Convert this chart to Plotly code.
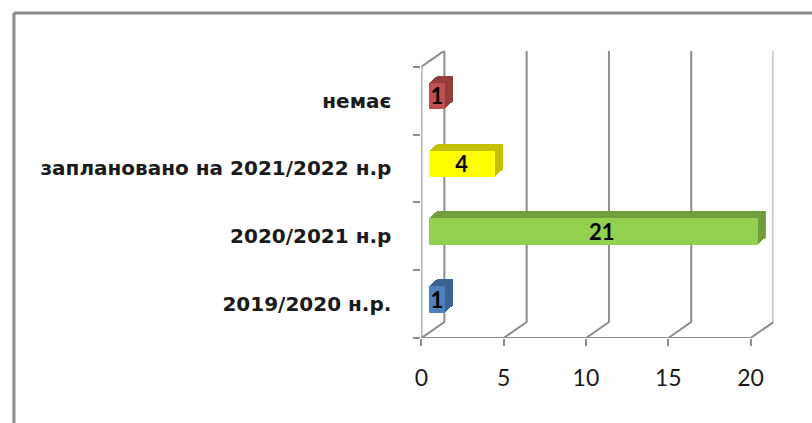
import plotly.graph_objects as go

# ---- data ----
categories = ["2019/2020 н.р.", "2020/2021 н.р", "заплановано на 2021/2022 н.р", "немає"]
values = [1, 21, 4, 1]
front_colors = ["#4f81bd", "#92d050", "#ffff00", "#c0504d"]
depth_colors = ["#3b6396", "#6f9e3a", "#c2c000", "#943c39"]
x_ticks = [0, 5, 10, 15, 20]

# ---- geometry (pixels) ----
W, H = 812, 423
AX_LEFT, AX_RIGHT = 418, 750          # front value axis 0..20
AX_TOP, AX_BOTTOM = 66.7, 338         # front category axis
X_MAX = 20
WALL_DX, WALL_DY = 23, 16             # back-wall offset
BAR_DX, BAR_DY = 7.5, 5               # bar front-face offset inside the box
DEPTH_DX, DEPTH_DY = 8, 7             # bar extrusion
STEPS = 8
GRID = "#8c8c8c"
FONT = "Lato, 'Open Sans', sans-serif"
CAT_FONT = "'DejaVu Sans', sans-serif"

px_per_unit = (AX_RIGHT - AX_LEFT) / X_MAX
cat_px = (AX_BOTTOM - AX_TOP) / len(categories)


def px(x):
    return x / W


def py(y):
    return 1 - y / H


fig = go.Figure()

# main subplot: holds the box, front axes and wall lines
main_right = AX_RIGHT + WALL_DX
main_top = AX_TOP - WALL_DY
fig.update_layout(
    xaxis=dict(
        domain=[px(AX_LEFT), px(main_right)],
        range=[0, (main_right - AX_LEFT) / px_per_unit],
        tickvals=x_ticks, ticktext=[str(t) for t in x_ticks],
        ticks="outside", ticklen=7, tickwidth=2, tickcolor=GRID,
        showline=False, showgrid=False, zeroline=False,
        tickfont=dict(family=FONT, size=23, color="#1a1a1a"),
        ticklabelstandoff=12, fixedrange=True,
    ),
    yaxis=dict(
        domain=[py(AX_BOTTOM), py(main_top)],
        type="category", categoryorder="array", categoryarray=categories,
        range=[-0.5, len(categories) - 0.5 + (AX_TOP - main_top) / cat_px],
        tickson="boundaries", ticks="outside", ticklen=7, tickwidth=2, tickcolor=GRID,
        showline=False, showgrid=False, zeroline=False,
        tickfont=dict(family=CAT_FONT, size=20, color="#1a1a1a", weight="bold"),
        ticklabelstandoff=29, fixedrange=True,
    ),
)
# invisible point so the main subplot is drawn
fig.add_trace(go.Scatter(x=[0], y=[categories[0]], mode="markers",
                         marker=dict(opacity=0), hoverinfo="skip", showlegend=False))

line_style = dict(color=GRID, width=2)
shapes = []
# front axis lines
shapes.append(dict(type="line", xref="x", yref="y", x0=0, x1=X_MAX, y0=-0.5, y1=-0.5,
                   line=line_style, layer="below"))
shapes.append(dict(type="line", xref="x", yref="y", x0=0, x1=0, y0=-0.5, y1=len(categories) - 0.5,
                   line=line_style, layer="below"))
# floor diagonals + back-wall verticals at each tick
wall_h = AX_BOTTOM - main_top
for t in x_ticks:
    shapes.append(dict(type="path", xref="x", yref="y", xsizemode="pixel", ysizemode="pixel",
                       xanchor=t, yanchor=-0.5,
                       path=f"M0,0 L{WALL_DX},{WALL_DY} L{WALL_DX},{wall_h}",
                       line=line_style, layer="below"))
# top-left diagonal of the side wall
shapes.append(dict(type="path", xref="x", yref="y", xsizemode="pixel", ysizemode="pixel",
                   xanchor=0, yanchor=len(categories) - 0.5,
                   path=f"M0,0 L{WALL_DX},{WALL_DY}", line=line_style, layer="below"))
# outer frame
shapes.append(dict(type="line", xref="paper", yref="paper", x0=px(7), x1=1.0, y0=py(13), y1=py(13),
                   line=dict(color="#8a8a8a", width=3)))
shapes.append(dict(type="line", xref="paper", yref="paper", x0=px(7), x1=px(7), y0=py(13), y1=0,
                   line=dict(color="#8a8a8a", width=3)))
fig.update_layout(shapes=shapes)

# bars: extrusion layers (deepest first), then the front faces
layers = [(STEPS - i) / STEPS for i in range(STEPS)] + [0.0]
for n, f in enumerate(layers, start=2):
    dx = BAR_DX + DEPTH_DX * f
    dy = BAR_DY + DEPTH_DY * f
    xa, ya = f"xaxis{n}", f"yaxis{n}"
    fig.update_layout(**{
        xa: dict(domain=[px(AX_LEFT + dx), px(AX_RIGHT + dx)], range=[0, X_MAX],
                 anchor=f"y{n}", visible=False, fixedrange=True),
        ya: dict(domain=[py(AX_BOTTOM - dy), py(AX_TOP - dy)], type="category",
                 categoryorder="array", categoryarray=categories,
                 range=[-0.5, len(categories) - 0.5],
                 anchor=f"x{n}", visible=False, fixedrange=True),
    })
    front = f == 0.0
    fig.add_trace(go.Bar(
        x=values, y=categories, orientation="h", width=0.39,
        xaxis=f"x{n}", yaxis=f"y{n}",
        marker=dict(color=front_colors if front else depth_colors, line=dict(width=0)),
        text=[str(v) for v in values] if front else None,
        textposition="inside" if front else "none",
        insidetextanchor="middle", constraintext="none", textangle=0,
        textfont=dict(family=FONT, size=22, color="#000000", weight="bold"),
        hoverinfo="skip", showlegend=False,
    ))

fig.update_layout(
    width=W, height=H, margin=dict(l=0, r=0, t=0, b=0),
    paper_bgcolor="white", plot_bgcolor="rgba(0,0,0,0)",
    bargap=0, showlegend=False,
)

fig.write_html("out.html", config={"displayModeBar": False})
